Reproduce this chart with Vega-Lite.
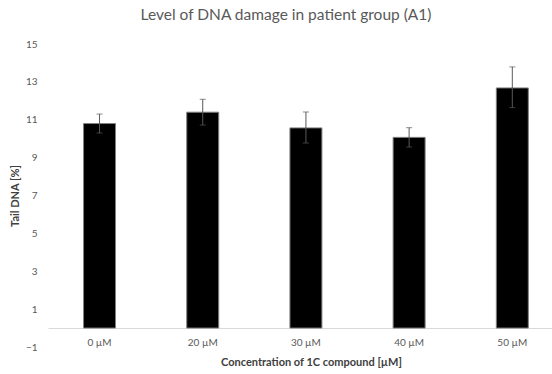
{
  "$schema": "https://vega.github.io/schema/vega-lite/v6.json",
  "width": 504,
  "height": 303,
  "autosize": "none",
  "padding": {"left": 48, "top": 44, "right": 0, "bottom": 27},
  "background": "white",
  "config": {"view": {"stroke": null}, "font": "Lato"},
  "title": {"text": "Level of DNA damage in patient group (A1)", "fontSize": 15.5, "fontWeight": "normal", "color": "#595959", "offset": 16, "dx": -14, "font": "Lato"},
  "data": {"values": [
    {"conc": "0 µM", "mean": 10.8, "lo": 10.3, "hi": 11.3},
    {"conc": "20 µM", "mean": 11.4, "lo": 10.72, "hi": 12.08},
    {"conc": "30 µM", "mean": 10.57, "lo": 9.77, "hi": 11.41},
    {"conc": "40 µM", "mean": 10.07, "lo": 9.56, "hi": 10.58},
    {"conc": "50 µM", "mean": 12.68, "lo": 11.64, "hi": 13.79}
  ]},
  "encoding": {
    "x": {"field": "conc", "type": "nominal", "sort": null,
      "scale": {"paddingInner": 0.69, "paddingOuter": 0.287, "align": 0.6},
      "axis": {"title": "Concentration of 1C compound [µM]", "labelAngle": 0, "offset": -19, "domainColor": "#d9d9d9", "ticks": false, "labelPadding": 9, "labelFontSize": 10, "labelColor": "#595959", "titleFontSize": 11, "titleFontWeight": "bold", "titleColor": "#404040", "titlePadding": 9, "titleX": 263}}
  },
  "layer": [
    {"mark": {"type": "bar", "color": "black", "stroke": "#808080", "strokeWidth": 1},
     "encoding": {"y": {"field": "mean", "type": "quantitative",
       "scale": {"domain": [-1, 15], "nice": false, "zero": false},
       "axis": {"values": [-1, 1, 3, 5, 7, 9, 11, 13, 15], "tickCount": 20, "labelOverlap": false, "title": "Tail DNA [%]", "domain": false, "ticks": false, "grid": false, "labelPadding": 11, "labelFontSize": 10, "labelColor": "#595959", "titleFontSize": 11, "titleFontWeight": "bold", "titleColor": "#404040", "titlePadding": 5}}}},
    {"mark": {"type": "rule", "color": "#595959", "strokeWidth": 1},
     "encoding": {"y": {"field": "lo", "type": "quantitative"}, "y2": {"field": "hi"}}},
    {"mark": {"type": "tick", "color": "#595959", "size": 6, "thickness": 1},
     "encoding": {"y": {"field": "lo", "type": "quantitative"}}},
    {"mark": {"type": "tick", "color": "#595959", "size": 6, "thickness": 1},
     "encoding": {"y": {"field": "hi", "type": "quantitative"}}}
  ]
}
